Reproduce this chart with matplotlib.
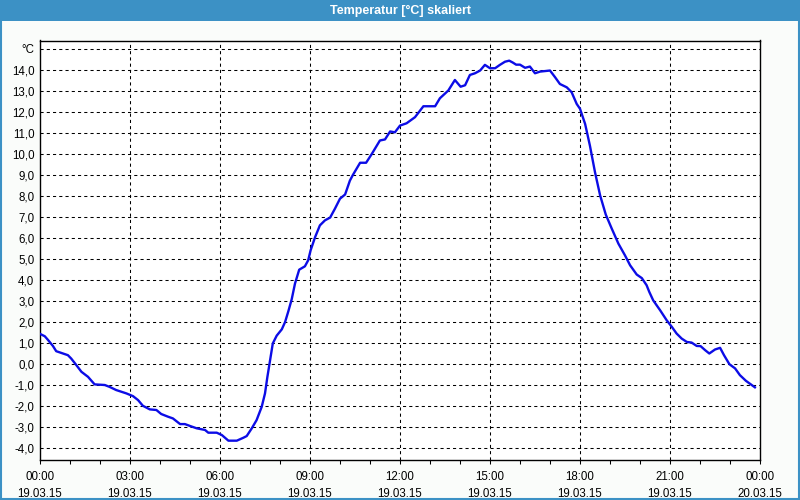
import matplotlib.pyplot as plt
import numpy as np
from matplotlib.patches import Rectangle

# time in hours since 19.03.15 00:00, temperature in degC
hours = [0.02, 0.16, 0.27, 0.43, 0.54, 0.77, 0.93, 1.04, 1.21, 1.38, 1.60, 1.82,
         2.16, 2.32, 2.54, 2.71, 2.88, 3.10, 3.27, 3.43, 3.66, 3.88, 4.04, 4.27,
         4.43, 4.67, 4.83, 5.00, 5.22, 5.50, 5.61, 5.89, 6.06, 6.28, 6.56, 6.78,
         6.89, 7.06, 7.22, 7.39, 7.50, 7.58, 7.67, 7.76, 7.89, 8.06, 8.17, 8.28,
         8.39, 8.50, 8.64, 8.83, 8.94, 9.02, 9.17, 9.33, 9.50, 9.67, 9.83, 10.00,
         10.17, 10.33, 10.43, 10.67, 10.87, 11.06, 11.33, 11.50, 11.67, 11.83, 12.00,
         12.22, 12.50, 12.78, 13.17, 13.33, 13.61, 13.83, 14.02, 14.17, 14.33, 14.50,
         14.67, 14.83, 15.00, 15.17, 15.33, 15.50, 15.64, 15.76, 15.87, 16.00, 16.17,
         16.33, 16.50, 16.67, 17.00, 17.17, 17.33, 17.56, 17.72, 17.89, 18.00, 18.17,
         18.33, 18.50, 18.67, 18.86, 19.06, 19.28, 19.50, 19.67, 19.89, 20.06, 20.22,
         20.31, 20.44, 20.67, 20.89, 21.06, 21.22, 21.39, 21.56, 21.72, 21.89, 22.02,
         22.17, 22.31, 22.50, 22.67, 22.80, 22.98, 23.17, 23.33, 23.53, 23.72, 23.83]
temps = [1.42, 1.32, 1.14, 0.86, 0.61, 0.50, 0.42, 0.26, -0.05, -0.37, -0.61, -0.97,
         -1.00, -1.09, -1.24, -1.32, -1.40, -1.53, -1.72, -1.99, -2.16, -2.19, -2.38, -2.51,
         -2.59, -2.86, -2.86, -2.95, -3.06, -3.14, -3.27, -3.27, -3.38, -3.65, -3.65, -3.51,
         -3.43, -3.06, -2.67, -2.04, -1.40, -0.61, 0.18, 0.98, 1.35, 1.65, 2.00, 2.52,
         3.08, 3.83, 4.49, 4.65, 4.94, 5.41, 6.04, 6.60, 6.84, 6.97, 7.39, 7.87,
         8.07, 8.73, 9.00, 9.58, 9.58, 10.00, 10.64, 10.69, 11.07, 11.03, 11.35,
         11.46, 11.75, 12.27, 12.27, 12.65, 13.02, 13.52, 13.20, 13.27, 13.76, 13.84,
         13.97, 14.24, 14.08, 14.08, 14.24, 14.39, 14.44, 14.35, 14.25, 14.25, 14.10,
         14.16, 13.84, 13.92, 13.97, 13.65, 13.33, 13.17, 12.94, 12.38, 12.15, 11.43,
         10.40, 9.13, 8.03, 7.11, 6.44, 5.73, 5.17, 4.70, 4.26, 4.09, 3.75,
         3.43, 3.03, 2.56, 2.08, 1.77, 1.45, 1.21, 1.05, 1.02, 0.86, 0.85,
         0.66, 0.50, 0.69, 0.77, 0.42, -0.01, -0.21, -0.53, -0.80, -1.00, -1.11]

x_ticks = [0, 3, 6, 9, 12, 15, 18, 21, 24]
x_labels = ["00:00\n19.03.15", "03:00\n19.03.15", "06:00\n19.03.15", "09:00\n19.03.15",
            "12:00\n19.03.15", "15:00\n19.03.15", "18:00\n19.03.15", "21:00\n19.03.15",
            "00:00\n20.03.15"]
y_ticks = list(range(-4, 16))
y_labels = [f"{v},0" for v in y_ticks[:-1]] + ["°C"]

title = "Temperatur [°C] skaliert"
bar_blue = "#3c91c5"

plt.rcParams["font.family"] = ["Liberation Sans", "DejaVu Sans"]

fig = plt.figure(figsize=(8, 5), dpi=100, facecolor="#fafcfa")
ax = fig.add_axes([0.05, 0.08, 0.90, 0.839])

# title bar + window frame
fig.patches.append(Rectangle((0, 0.958), 1, 0.042, transform=fig.transFigure,
                             facecolor=bar_blue, edgecolor="none", zorder=0))
fig.patches.append(Rectangle((0.001, 0.002), 0.998, 0.996, transform=fig.transFigure,
                             facecolor="none", edgecolor=bar_blue, lw=1.5, zorder=1))
fig.text(0.5, 0.979, title, color="white", fontsize=9, fontweight="bold",
         ha="center", va="center")

ax.plot(hours, temps, color="#0c0ce6", lw=1.7, zorder=3)

ax.set_xlim(0, 24)
ax.set_ylim(-4.57, 15.4)
ax.set_xticks(x_ticks)
ax.set_xticklabels(x_labels, fontsize=8.3, linespacing=1.55)
ax.set_xticks(np.arange(0, 25, 1), minor=True)
ax.set_yticks(y_ticks)
ax.set_yticklabels(y_labels, fontsize=8.3)
ax.tick_params(axis="x", which="both", direction="out", length=3, width=0.75, pad=5)
ax.tick_params(axis="y", length=0, pad=4)

for s in ax.spines.values():
    s.set_linewidth(1.0)
    s.set_color("black")

for y in y_ticks:
    ax.axhline(y, color="black", lw=0.75, ls=(0, (3, 3)), zorder=1)
for x in x_ticks[1:-1]:
    ax.axvline(x, color="black", lw=0.75, ls=(0, (3, 3)), zorder=1)

fig.savefig("out.png", dpi=100, facecolor=fig.get_facecolor())
plt.close()
